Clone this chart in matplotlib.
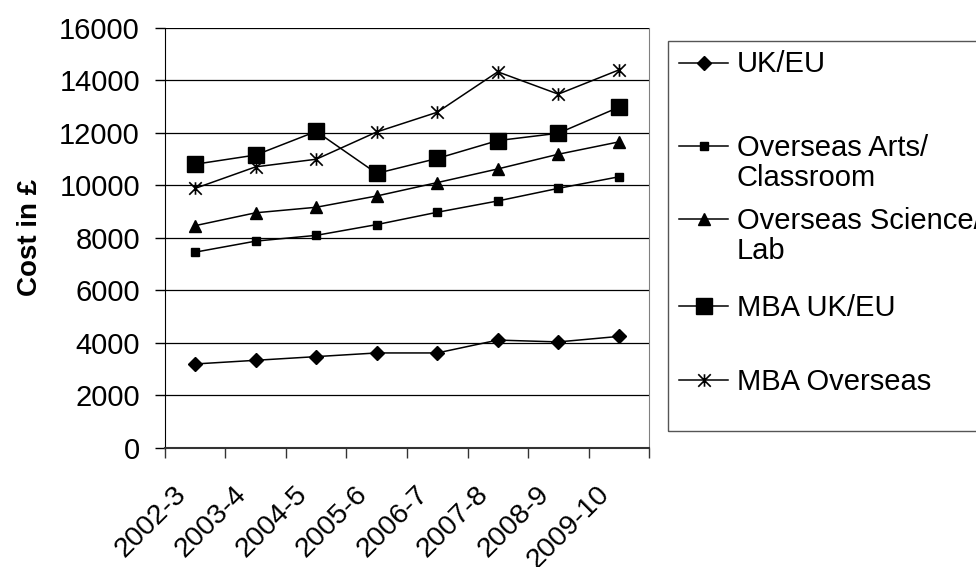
import matplotlib
matplotlib.use('Agg')
import matplotlib.pyplot as plt
from matplotlib.lines import Line2D
from matplotlib.patches import Rectangle
from matplotlib.path import Path
import matplotlib.transforms as mtransforms

plt.rcParams['font.family'] = ['Liberation Sans', 'DejaVu Sans']

years = ['2002-3', '2003-4', '2004-5', '2005-6', '2006-7', '2007-8', '2008-9', '2009-10']

uk_eu = [3190, 3330, 3470, 3610, 3610, 4100, 4030, 4240]
overseas_arts = [7450, 7870, 8090, 8500, 8970, 9400, 9880, 10320]
overseas_science = [8460, 8950, 9160, 9590, 10100, 10620, 11180, 11650]
mba_uk_eu = [10800, 11150, 12050, 10450, 11020, 11700, 11980, 12970]
mba_overseas = [9880, 10700, 10990, 12030, 12780, 14320, 13470, 14390]

labels = ['UK/EU', 'Overseas Arts/\nClassroom', 'Overseas Science/\nLab',
          'MBA UK/EU', 'MBA Overseas']

# asterisk marker: vertical bar plus an X
star = Path([(0, -1), (0, 1), (-1, -1), (1, 1), (-1, 1), (1, -1)],
            [Path.MOVETO, Path.LINETO, Path.MOVETO, Path.LINETO, Path.MOVETO, Path.LINETO])

styles = [
    dict(marker='D', ms=7, mfc='black'),
    dict(marker='s', ms=6, mfc='black'),
    dict(marker='^', ms=8, mfc='black'),
    dict(marker='s', ms=12, mfc='black'),
    dict(marker=star, ms=9, mfc='none', mew=1.2),
]
series = [uk_eu, overseas_arts, overseas_science, mba_uk_eu, mba_overseas]

fig = plt.figure(figsize=(9.76, 5.67), dpi=100)
ax = fig.add_axes([0.169, 0.2104, 0.496, 0.7407])

x = list(range(len(years)))
for vals, st in zip(series, styles):
    ax.plot(x, vals, color='black', lw=1.1, mec='black', **st, clip_on=False, zorder=3)

ax.set_ylim(0, 16000)
ax.set_xlim(-0.5, len(years) - 0.5)
ax.set_yticks(range(0, 16001, 2000))
ax.yaxis.grid(True, color='black', lw=0.9)
ax.set_axisbelow(True)

# category boundaries carry the ticks, centres carry the labels
ax.set_xticks([i - 0.5 for i in range(len(years) + 1)])
ax.set_xticklabels([])
ax.set_xticks(x, minor=True)
ax.set_xticklabels(years, minor=True, rotation=45, ha='right', va='top',
                   rotation_mode='anchor', fontsize=20.5)
ax.tick_params(axis='x', which='minor', length=0, pad=24)
ax.tick_params(axis='x', which='major', length=7, width=1, direction='out', color='#333333')
ax.tick_params(axis='y', length=7, width=1, direction='out', labelsize=21, pad=11)
shift = mtransforms.ScaledTranslation(-16 / 72, 0, fig.dpi_scale_trans)
for lab in ax.get_xticklabels(minor=True):
    lab.set_transform(lab.get_transform() + shift)

ax.spines['top'].set_visible(False)
ax.spines['right'].set_color('#808080')
ax.spines['left'].set_color('black')
ax.spines['bottom'].set_color('#333333')
ax.spines['bottom'].set_linewidth(1.5)

ax.set_ylabel('Cost in £', fontsize=20, fontweight='bold', labelpad=12)

# legend box, running off the right edge
W, H = 976, 567
fig.patches.append(Rectangle((668 / W, 1 - 431 / H), 400 / W, 390 / H,
                             transform=fig.transFigure, fill=False,
                             edgecolor='#555555', lw=1))
legend_y = [63, 146, 219, 306, 380]
for lab, st, ly in zip(labels, styles, legend_y):
    yf = 1 - ly / H
    fig.lines.append(Line2D([679 / W, 728 / W], [yf, yf], transform=fig.transFigure,
                            color='black', lw=1.1))
    fig.lines.append(Line2D([703.5 / W], [yf], transform=fig.transFigure,
                            color='black', mec='black', **st))
    fig.text(737 / W, yf + 12.5 / H, lab, fontsize=21, va='top', ha='left',
             linespacing=1.12, transform=fig.transFigure)

fig.savefig('out.png', dpi=100)
